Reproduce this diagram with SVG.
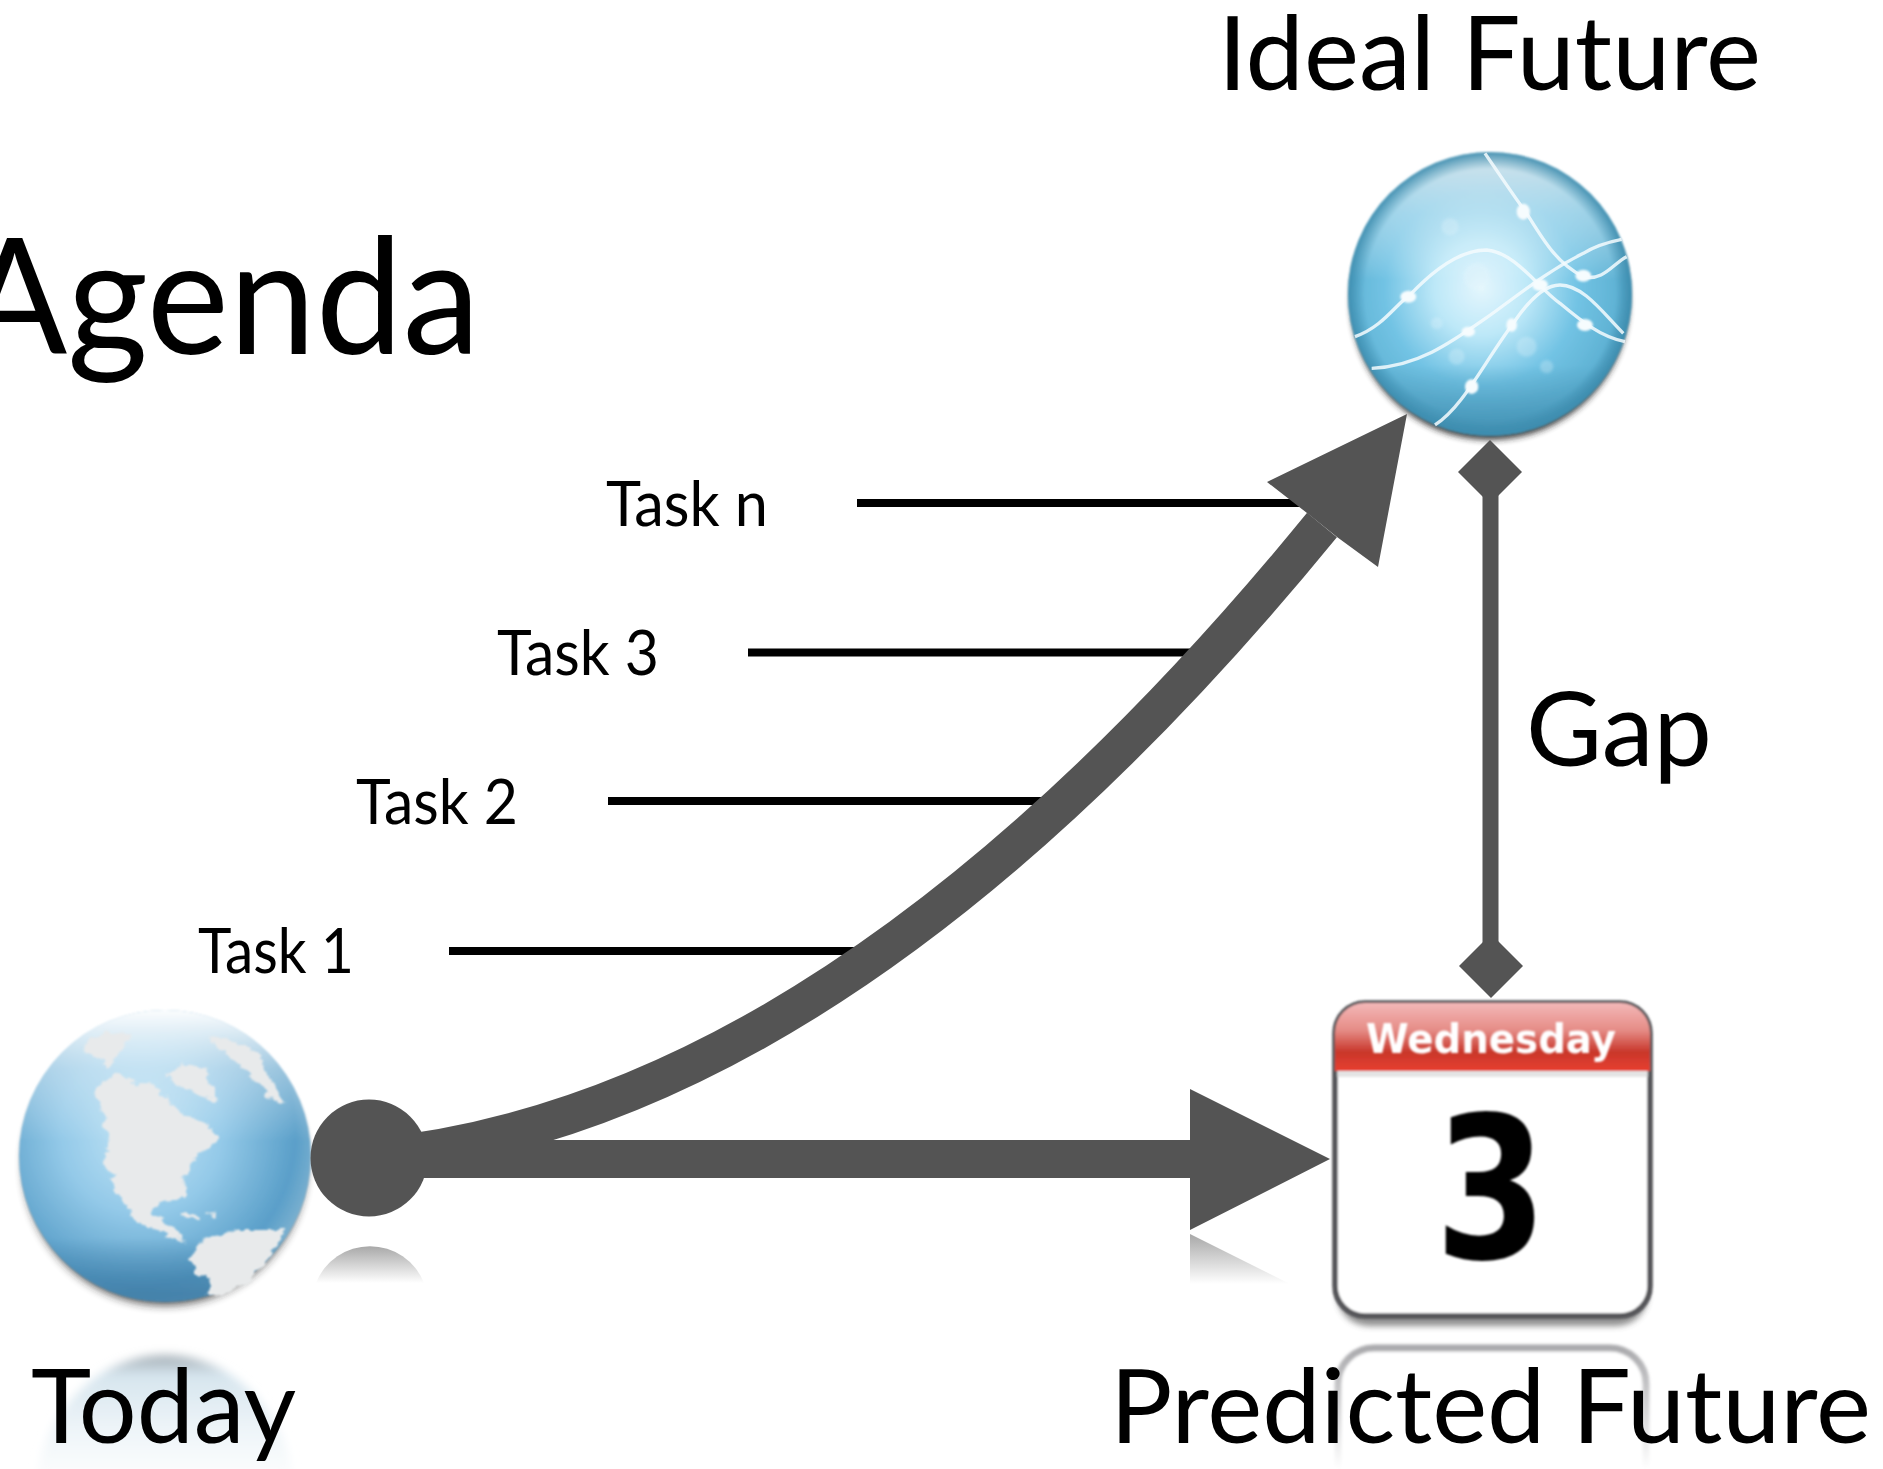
<svg xmlns="http://www.w3.org/2000/svg" width="1883" height="1469" viewBox="0 0 1883 1469">
<style>
text{font-family:"Lato","Open Sans","Liberation Sans",sans-serif;fill:#000}
.ar{fill:#545454}
.task{stroke:#000;stroke-width:8;fill:none}
.lbl{font-size:103px}
.tl{font-size:62px}
.land{fill:#e8eaeb}
.wave{fill:none;stroke:#f4fbfe;stroke-width:10;stroke-opacity:.85;filter:url(#b2)}
.gl{fill:#f6fcfe;filter:url(#b3)}
.hz{fill:#e8f7fd;opacity:.28;filter:url(#b4)}
.cal{font-family:"DejaVu Sans","Liberation Sans",sans-serif;font-weight:700;filter:url(#b1)}
</style>
<defs>
<filter id="b1" x="-20%" y="-20%" width="140%" height="140%"><feGaussianBlur stdDeviation=".8"/></filter>
<filter id="b2" x="-20%" y="-20%" width="140%" height="140%"><feGaussianBlur stdDeviation="1.6"/></filter>
<filter id="b3" x="-60%" y="-60%" width="220%" height="220%"><feGaussianBlur stdDeviation="3"/></filter>
<filter id="b4" x="-50%" y="-50%" width="200%" height="200%"><feGaussianBlur stdDeviation="5"/></filter>
<filter id="rough" x="-10%" y="-10%" width="120%" height="120%">
<feTurbulence type="fractalNoise" baseFrequency=".035" numOctaves="3" seed="4" result="n"/>
<feDisplacementMap in="SourceGraphic" in2="n" scale="34" xChannelSelector="R" yChannelSelector="G"/>
<feGaussianBlur stdDeviation="2.4"/>
</filter>
<radialGradient id="earth" cx=".42" cy=".42" r=".62">
<stop offset="0" stop-color="#c4e6f7"/><stop offset=".45" stop-color="#93c9e8"/><stop offset=".85" stop-color="#5a9fc9"/><stop offset="1" stop-color="#7fb2d0"/>
</radialGradient>
<linearGradient id="cap" x1="0" y1="0" x2="0" y2="1">
<stop offset="0" stop-color="#fff" stop-opacity=".98"/><stop offset=".2" stop-color="#fff" stop-opacity=".4"/><stop offset=".45" stop-color="#fff" stop-opacity="0"/><stop offset=".78" stop-color="#3f7da6" stop-opacity="0"/><stop offset=".97" stop-color="#3f7da6" stop-opacity=".85"/>
</linearGradient>
<radialGradient id="orb" cx=".47" cy=".48" r=".55">
<stop offset="0" stop-color="#e4f6fd"/><stop offset=".3" stop-color="#bde8f8"/><stop offset=".62" stop-color="#72c3e4"/><stop offset=".88" stop-color="#5fb2d4"/><stop offset="1" stop-color="#4b97b9"/>
</radialGradient>
<linearGradient id="orbv" x1="0" y1="0" x2="0" y2="1">
<stop offset="0" stop-color="#dbe7ec" stop-opacity=".95"/><stop offset=".22" stop-color="#d8eef7" stop-opacity=".5"/><stop offset=".45" stop-color="#fff" stop-opacity="0"/><stop offset=".75" stop-color="#3f8cae" stop-opacity="0"/><stop offset="1" stop-color="#3f8cae" stop-opacity=".85"/>
</linearGradient>
<radialGradient id="rim" cx=".5" cy=".5" r=".5">
<stop offset=".88" stop-color="#3c8cae" stop-opacity="0"/><stop offset=".99" stop-color="#3c8cae" stop-opacity=".85"/>
</radialGradient>
<linearGradient id="hdr" x1="0" y1="0" x2="0" y2="1">
<stop offset="0" stop-color="#f4b8b8"/><stop offset=".4" stop-color="#e58c86"/><stop offset=".72" stop-color="#c9372c"/><stop offset="1" stop-color="#e73f2e"/>
</linearGradient>
<linearGradient id="fade" x1="0" y1="0" x2="0" y2="1">
<stop offset="0" stop-color="#a8a8a8"/><stop offset="1" stop-color="#fff"/>
</linearGradient>
<linearGradient id="globeR" x1="0" y1="0" x2="0" y2="1">
<stop offset="0" stop-color="#a0aab1"/><stop offset=".07" stop-color="#d6e5ee"/><stop offset=".25" stop-color="#edf4f8"/><stop offset=".39" stop-color="#fafcfd"/><stop offset="1" stop-color="#fff"/>
</linearGradient>
<linearGradient id="calR" gradientUnits="userSpaceOnUse" x1="0" y1="1345" x2="0" y2="1469">
<stop offset="0" stop-color="#a8a8ab"/><stop offset="1" stop-color="#fff"/>
</linearGradient>
<clipPath id="hc"><path d="M1335,1071V1033a30,30 0 0 1 30,-30H1620a30,30 0 0 1 30,30V1071Z"/></clipPath>
</defs>
<rect width="1883" height="1469" fill="#fff"/>

<g id="reflections">
<ellipse cx="165" cy="1500" rx="130" ry="145" fill="url(#globeR)" filter="url(#b4)"/>
<path d="M316,1283A58,58 0 0 1 424,1283Z" fill="url(#fade)"/>
<path d="M1190,1234L1290,1284H1190Z" fill="url(#fade)"/>
<path d="M1338,1469V1384a36,36 0 0 1 36,-36H1610a36,36 0 0 1 36,36V1469" fill="#fff" stroke="url(#calR)" stroke-width="7" filter="url(#b2)"/>
</g>

<g id="today-globe">
<circle cx="165" cy="1164" r="141" fill="#222" opacity=".8" filter="url(#b4)"/>
<g filter="url(#b1)">
<circle cx="165" cy="1156" r="146" fill="url(#earth)"/>
<circle cx="165" cy="1156" r="146" fill="url(#cap)"/>
</g>
<g transform="translate(0 950) scale(.4464 .3333)" filter="url(#rough)">
<path class="land" d="M210,420L260,365L300,400L340,400L370,440L400,480L470,530L490,570L440,620L410,680L415,745L360,750L340,790L380,830L420,880L400,870L340,840L300,800L260,720L235,640L245,560L225,470Z"/>
<path class="land" d="M370,370L410,340L460,360L485,455L440,430L390,400Z"/>
<path class="land" d="M200,260L240,250L300,250L270,300L240,360L210,310L185,310Z"/>
<path class="land" d="M470,260L520,270L580,310L600,380L635,465L600,440L560,370L490,300Z"/>
<path class="land" d="M430,920L450,870L530,840L640,840L600,930L540,1010L490,1045L460,1040L470,990L440,970Z"/>
<path class="land" d="M410,785L445,795L440,805L415,800ZM465,795L485,790L480,805Z"/>
</g>
</g>

<g id="ideal-orb">
<circle cx="1490" cy="301" r="139" fill="#222" opacity=".85" filter="url(#b3)"/>
<g filter="url(#b1)">
<circle cx="1490" cy="294" r="142" fill="url(#orb)"/>
<circle cx="1490" cy="294" r="142" fill="url(#orbv)"/>
<circle cx="1490" cy="294" r="142" fill="url(#rim)"/>
</g>
<g transform="translate(1250 100) scale(.3333)">
<circle class="hz" cx="620" cy="770" r="24"/><circle class="hz" cx="830" cy="740" r="30"/><circle class="hz" cx="890" cy="800" r="20"/><circle class="hz" cx="560" cy="670" r="18"/><circle class="hz" cx="680" cy="530" r="40"/><circle class="hz" cx="600" cy="380" r="26"/>
<path class="wave" d="M315,710C400,680 440,610 480,585C560,500 640,450 710,450C800,460 860,560 930,610C990,660 1050,710 1125,725"/>
<path class="wave" d="M365,805C500,800 600,730 700,660C800,590 880,520 1000,460C1040,435 1080,425 1115,418"/>
<path class="wave" d="M555,975C640,920 700,790 790,670C830,610 880,555 930,555C1000,555 1060,640 1120,700"/>
<path class="wave" d="M705,160C760,240 800,300 830,340C880,420 920,490 1000,530C1060,545 1090,490 1130,470"/>
<ellipse class="gl" cx="475" cy="590" rx="24" ry="18"/><ellipse class="gl" cx="820" cy="335" rx="20" ry="24"/><ellipse class="gl" cx="1000" cy="527" rx="24" ry="18"/><ellipse class="gl" cx="1005" cy="675" rx="24" ry="18"/><ellipse class="gl" cx="785" cy="675" rx="16" ry="20"/><ellipse class="gl" cx="655" cy="695" rx="20" ry="15"/><ellipse class="gl" cx="665" cy="860" rx="20" ry="22"/><ellipse class="gl" cx="870" cy="555" rx="24" ry="18"/>
</g>
</g>

<g id="predicted-calendar">
<rect x="1337" y="1012" width="311" height="314" rx="32" fill="#444" opacity=".6" filter="url(#b3)"/>
<g filter="url(#b1)">
<rect x="1335" y="1003" width="315" height="313" rx="30" fill="#fff" stroke="#56565a" stroke-width="5.5"/>
<g clip-path="url(#hc)"><rect x="1335" y="1003" width="315" height="68" fill="url(#hdr)"/></g>
<rect x="1337" y="1071" width="311" height="6" fill="#d8d8d8" opacity=".7"/>
</g>
<text class="cal" x="1491" y="1053" text-anchor="middle" textLength="250" lengthAdjust="spacingAndGlyphs" style="font-size:40px;fill:#fff">Wednesday</text>
<text class="cal" x="1491" y="1258" text-anchor="middle" textLength="112" lengthAdjust="spacingAndGlyphs" style="font-size:198px">3</text>
</g>

<g id="connectors">
<path class="task" d="M449,951H870"/>
<path class="task" d="M608,801H1055"/>
<path class="task" d="M748,652.5H1205"/>
<path class="task" d="M857,503H1320"/>
<path d="M369,1158C720,1125 1040,870 1322,525" fill="none" stroke="#545454" stroke-width="38.5"/>
<path class="ar" d="M1407,414L1267,482L1307,513L1337,537L1378,567Z"/>
<circle class="ar" cx="369" cy="1158" r="58.5"/>
<path class="ar" d="M369,1140H1190V1089L1330,1159L1190,1230V1178H369Z"/>
<path d="M1490.5,480V960" stroke="#545454" stroke-width="16" fill="none"/>
<path class="ar" d="M1490,440L1522,472L1490,504L1458,472Z"/>
<path class="ar" d="M1491,934L1523,966L1491,998L1459,966Z"/>
</g>

<g id="labels">
<text class="lbl" x="1218" y="90" textLength="543" lengthAdjust="spacingAndGlyphs">Ideal Future</text>
<text x="-38" y="354" textLength="518" lengthAdjust="spacingAndGlyphs" style="font-size:162px">Agenda</text>
<text class="tl" x="606" y="526" textLength="162" lengthAdjust="spacingAndGlyphs">Task n</text>
<text class="tl" x="497" y="675" textLength="162" lengthAdjust="spacingAndGlyphs">Task 3</text>
<text class="tl" x="356" y="824" textLength="162" lengthAdjust="spacingAndGlyphs">Task 2</text>
<text class="tl" x="198" y="973" textLength="156" lengthAdjust="spacingAndGlyphs">Task 1</text>
<text class="lbl" x="1526" y="766" textLength="186" lengthAdjust="spacingAndGlyphs">Gap</text>
<text class="lbl" x="31" y="1443" textLength="265" lengthAdjust="spacingAndGlyphs">Today</text>
<text class="lbl" x="1110" y="1443" textLength="761" lengthAdjust="spacingAndGlyphs">Predicted Future</text>
</g>
</svg>
